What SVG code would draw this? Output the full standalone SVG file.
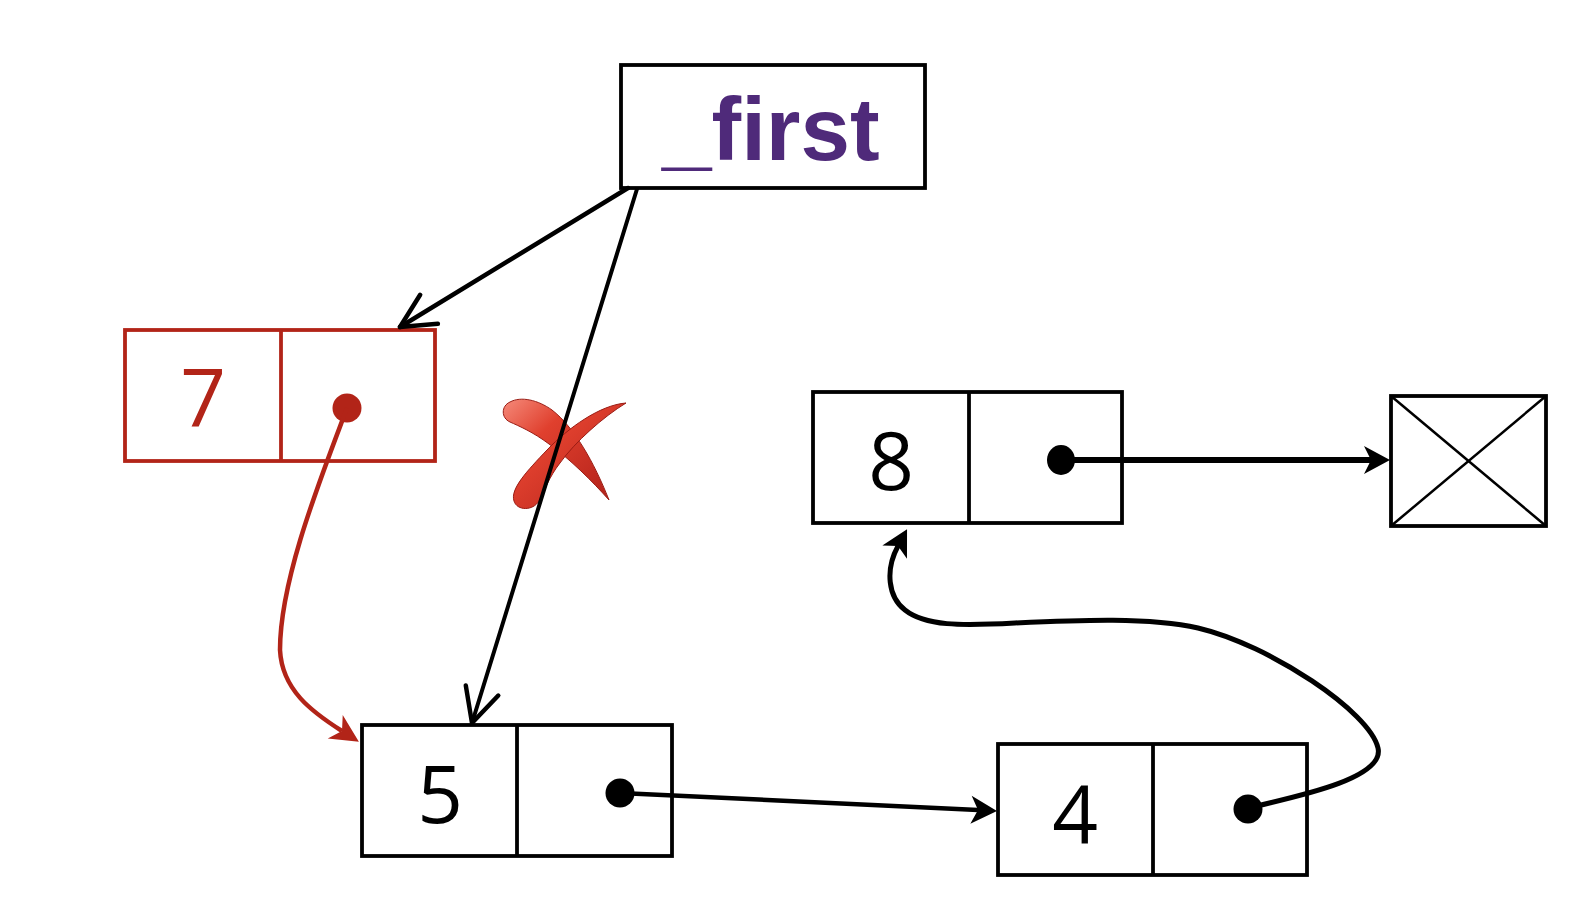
<svg xmlns="http://www.w3.org/2000/svg" width="1592" height="908" viewBox="0 0 1592 908">
  <style>
    .cell { fill: none; stroke: #000; stroke-width: 3.8; }
    .cell-red { fill: none; stroke: #b22418; stroke-width: 3.8; }
    .digit { font-family: "Open Sans", "DejaVu Sans", sans-serif; font-size: 80px; text-anchor: middle; fill: #000; }
    .ptr { fill: #000; }
    .link { fill: none; stroke: #000; stroke-linecap: round; }
  </style>
  <defs>
    <!-- filled swept arrowhead; path ends at the notch (refX) -->
    <marker id="headFill" markerUnits="userSpaceOnUse" viewBox="-1 -16 30 32" refX="7" refY="0" markerWidth="30" markerHeight="32" orient="auto" overflow="visible">
      <path d="M26,0 L0,-14 L7,0 L0,14 Z" fill="#000"/>
    </marker>
    <marker id="headFillRed" markerUnits="userSpaceOnUse" viewBox="-1 -16 32 32" refX="8" refY="0" markerWidth="32" markerHeight="32" orient="auto" overflow="visible">
      <path d="M28,0 L0,-14 L8,0 L0,14 Z" fill="#b22418"/>
    </marker>
    <!-- open V arrowhead -->
    <marker id="headOpen" markerUnits="userSpaceOnUse" viewBox="-40 -20 44 40" refX="0" refY="0" markerWidth="44" markerHeight="40" orient="auto" overflow="visible">
      <path d="M-34,-17 L0,0 L-34,17" fill="none" stroke="#000" stroke-width="4.5" stroke-linecap="round" stroke-linejoin="round"/>
    </marker>
    <linearGradient id="crossFill" x1="0" y1="0" x2="1" y2="1">
      <stop offset="0" stop-color="#f58a7a"/>
      <stop offset="0.35" stop-color="#e0402e"/>
      <stop offset="1" stop-color="#b3221a"/>
    </linearGradient>
  </defs>

  <rect width="1592" height="908" fill="#fff"/>

  <!-- head pointer -->
  <g id="first">
    <rect x="621" y="65" width="304" height="123" fill="#fff" stroke="#000" stroke-width="3.8"/>
    <text x="662" y="160" font-family="'Liberation Sans', Arial, sans-serif" font-weight="bold" font-size="89" fill="#4f2a7a">_first</text>
  </g>

  <!-- new node 7 -->
  <g id="node7">
    <rect class="cell-red" x="125" y="330" width="310" height="131"/>
    <line class="cell-red" x1="281" y1="330" x2="281" y2="461"/>
    <text class="digit" x="203" y="427" style="fill:#b22418">7</text>
    <circle cx="347" cy="408" r="14.5" fill="#b22418"/>
  </g>

  <!-- node 5 -->
  <g id="node5">
    <rect class="cell" x="362" y="725" width="310" height="131"/>
    <line class="cell" x1="517" y1="725" x2="517" y2="856"/>
    <text class="digit" x="440" y="823">5</text>
    <circle class="ptr" cx="620" cy="793" r="14.5"/>
  </g>

  <!-- node 4 -->
  <g id="node4">
    <rect class="cell" x="998" y="744" width="309" height="131"/>
    <line class="cell" x1="1153" y1="744" x2="1153" y2="875"/>
    <text class="digit" x="1075" y="843">4</text>
    <circle class="ptr" cx="1248" cy="809" r="14.5"/>
  </g>

  <!-- node 8 -->
  <g id="node8">
    <rect class="cell" x="813" y="392" width="309" height="131"/>
    <line class="cell" x1="969" y1="392" x2="969" y2="523"/>
    <text class="digit" x="891" y="490">8</text>
    <ellipse class="ptr" cx="1061" cy="460" rx="14" ry="15"/>
  </g>

  <!-- null terminator -->
  <g id="null">
    <rect class="cell" x="1391" y="396" width="155" height="130"/>
    <line x1="1391" y1="396" x2="1546" y2="526" stroke="#000" stroke-width="2.5"/>
    <line x1="1546" y1="396" x2="1391" y2="526" stroke="#000" stroke-width="2.5"/>
  </g>

  <!-- crossed-out mark over the old head link -->
  <g id="cross" fill="url(#crossFill)" stroke="#9a1c14" stroke-width="1">
    <path d="M510,402 C521,396 538,400 552,410 C574,427 594,462 609,500 C593,482 570,459 549,444 C533,432 519,426 510,422 C501,418 501,406 510,402 Z"/>
    <path d="M626,403 C600,405 568,428 547,450 C527,471 510,489 514,501 C517,511 533,511 539,501 C545,490 549,477 560,463 C575,442 603,417 626,403 Z"/>
  </g>

  <!-- connectors -->
  <g id="connectors">
    <line class="link" x1="628" y1="188" x2="400" y2="327" stroke-width="4.5" marker-end="url(#headOpen)"/>
    <line class="link" x1="637" y1="189" x2="472" y2="723" stroke-width="4" marker-end="url(#headOpen)"/>
    <path d="M347,408 C320,480 280,580 280,650 C282,690 312,712 342,731" fill="none" stroke="#b22418" stroke-width="4.5" marker-end="url(#headFillRed)"/>
    <line class="link" x1="620" y1="793" x2="978" y2="810" stroke-width="4.5" marker-end="url(#headFill)"/>
    <line x1="1061" y1="460" x2="1371" y2="460" stroke="#000" stroke-width="6" marker-end="url(#headFill)"/>
    <path class="link" d="M1248,808 C1300,796 1385,778 1378,748 C1370,712 1270,645 1198,628 C1150,617 1080,620 1015,623 C960,626 925,626 905,610 C888,597 885,570 898,546" stroke-width="5" marker-end="url(#headFill)"/>
  </g>
</svg>
